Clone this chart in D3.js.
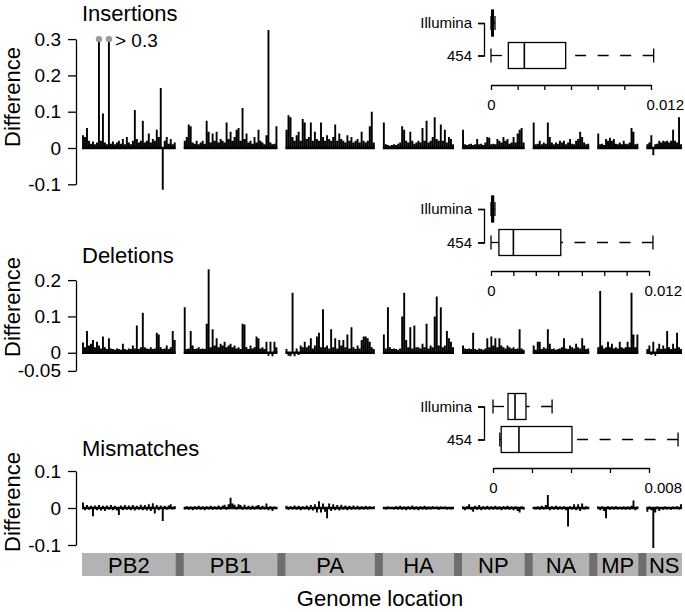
<!DOCTYPE html>
<html><head><meta charset="utf-8">
<script src="https://cdn.jsdelivr.net/npm/d3@7"></script>
<style>
body{margin:0;background:#fff}
svg text{font-family:"Liberation Sans",Arial,Helvetica,sans-serif;fill:#000}
</style></head><body>
<svg id="chart" width="685" height="612"></svg>
<script>
// ---------- genome layout ----------
const segments   = ["PB2","PB1","PA","HA","NP","NA","MP","NS"];
const segLengths = [2341,2341,2233,1778,1565,1413,1027,890];
const gapNt = 200;

// ---------- insertions (difference, binned along each segment) ----------
const insPB2 = [0.035,0.03,0.055,0.02,0.012,0.018,0.01,0.015,0.45,0.02,0.095,0.015,0.01,0.42,0.012,0.018,0.01,0.015,0.02,0.012,0.025,0.01,0.03,0.015,0.01,0.02,0.105,0.025,0.015,0.02,0.075,0.015,0.02,0.04,0.015,0.025,0.02,0.05,0.03,0.165,-0.115,0.02,0.03,0.012,0.025,0.01,0.015];
const insPB1 = [0.02,0.03,0.065,0.06,0.015,0.012,0.02,0.01,0.015,0.02,0.012,0.075,0.045,0.015,0.04,0.02,0.045,0.015,0.025,0.02,0.015,0.07,0.025,0.045,0.02,0.03,0.05,0.055,0.02,0.11,0.025,0.04,0.015,0.02,0.012,0.03,0.015,0.05,0.02,0.015,0.01,0.035,0.325,0.015,0.01,0.012,0.06];
const insPA  = [0.05,0.09,0.085,0.03,0.02,0.035,0.045,0.02,0.08,0.07,0.025,0.03,0.07,0.02,0.045,0.025,0.02,0.07,0.03,0.02,0.035,0.025,0.02,0.03,0.065,0.02,0.04,0.025,0.02,0.015,0.035,0.02,0.03,0.015,0.02,0.025,0.015,0.045,0.02,0.015,0.02,0.06,0.1,0.015];
const insHA  = [0.07,0.01,0.008,0.006,0.008,0.01,0.008,0.012,0.015,0.06,0.05,0.02,0.015,0.045,0.02,0.012,0.015,0.02,0.015,0.055,0.02,0.075,0.015,0.02,0.03,0.085,0.025,0.02,0.065,0.02,0.05,0.015,0.03,0.025,0.01];
const insNP  = [0.05,0.01,0.008,0.01,0.012,0.008,0.01,0.025,0.01,0.012,0.008,0.015,0.03,0.028,0.01,0.012,0.01,0.025,0.02,0.015,0.03,0.02,0.025,0.012,0.015,0.03,0.015,0.04,0.05,0.055,0.015];
const insNA  = [0.07,0.01,0.012,0.02,0.01,0.015,0.012,0.07,0.03,0.015,0.01,0.015,0.012,0.02,0.015,0.02,0.01,0.015,0.025,0.012,0.01,0.02,0.025,0.045,0.03,0.015,0.01,0.012];
const insMP  = [0.04,0.01,0.012,0.008,0.025,0.02,0.028,0.02,0.025,0.012,0.01,0.015,0.01,0.02,0.012,0.01,0.015,0.055,0.045,0.01,0.012];
const insNS  = [0.01,0.015,0.035,-0.02,0.01,0.012,0.02,0.015,0.02,0.018,0.02,0.015,0.02,0.05,0.02,0.015,0.085,0.01];

// ---------- deletions ----------
const delPB2 = [0.028,0.015,0.06,0.02,0.025,0.035,0.015,0.03,0.02,0.012,0.045,0.015,0.01,0.04,0.012,0.01,0.008,0.012,0.01,0.008,0.025,0.01,0.008,0.012,0.01,0.02,0.012,0.075,0.01,0.015,0.11,0.015,0.012,0.01,0.015,0.01,0.012,0.055,0.05,0.015,0.01,0.012,0.02,0.01,0.015,0.06,0.035];
const delPB1 = [0.125,0.01,0.012,0.06,0.02,0.01,0.012,0.015,0.01,0.012,0.01,0.08,0.23,0.015,0.065,0.02,0.04,0.015,0.025,0.02,0.03,0.015,0.02,0.025,0.015,0.02,0.012,0.015,0.01,0.08,0.078,0.015,0.01,0.02,0.012,0.015,0.045,0.04,0.012,0.015,0.01,0.03,-0.008,0.03,-0.01,0.03,0.015];
const delPA  = [0.01,-0.008,-0.01,0.165,-0.01,0.012,-0.006,0.02,0.015,0.03,0.015,0.02,0.04,0.012,0.02,0.045,0.055,0.015,0.12,0.015,0.02,0.012,0.065,0.015,0.04,0.012,0.035,0.02,0.035,0.015,0.05,0.012,0.07,0.015,0.01,0.02,0.012,0.035,0.045,0.045,0.04,0.03,0.015,0.01];
const delHA  = [0.05,0.012,0.125,0.015,0.01,0.012,0.01,0.008,0.012,0.1,0.165,0.035,0.015,0.07,0.012,0.075,0.015,0.015,0.012,0.025,0.015,0.08,0.012,0.02,0.015,0.1,0.155,0.02,0.125,0.015,0.02,0.06,0.04,0.03,0.015];
const delNP  = [0.02,0.012,0.01,0.012,0.01,0.055,0.01,0.008,0.012,0.01,0.008,0.012,0.04,0.015,0.045,0.02,0.04,0.015,0.04,0.02,0.015,0.012,0.02,0.015,0.012,0.015,0.01,0.012,0.065,0.012,0.008];
const delNA  = [0.02,0.008,0.03,0.03,0.01,0.015,0.012,0.065,0.025,0.01,0.012,0.008,0.01,0.012,0.015,0.04,0.012,0.01,0.02,0.015,0.012,0.025,0.015,0.012,0.04,0.02,0.01,0.012];
const delMP  = [0.015,0.17,0.02,0.012,0.015,0.03,0.015,0.025,0.012,0.015,0.012,0.03,0.015,0.012,0.015,0.03,0.015,0.165,0.05,0.015,0.05];
const delNS  = [0.01,0.02,-0.006,0.03,-0.008,0.012,0.025,0.01,0.02,0.012,0.06,0.015,0.01,0.025,0.012,0.055,0.015,0.01];

// ---------- mismatches ----------
const misPB2 = [0.015,-0.006,0.008,-0.005,0.006,-0.022,0.007,-0.006,0.008,-0.007,0.006,-0.008,0.007,-0.005,0.008,-0.006,0.006,-0.007,-0.019,0.007,-0.006,0.008,-0.005,0.007,-0.006,0.008,-0.007,0.006,-0.005,0.009,-0.006,0.008,-0.007,0.01,-0.008,0.013,-0.015,0.008,-0.006,0.007,-0.035,0.006,-0.005,0.007,0.01,-0.004,0.005];
const misPB1 = [-0.004,0.005,-0.005,0.004,-0.006,0.005,-0.004,0.006,-0.005,0.004,-0.006,0.005,-0.004,0.006,-0.005,0.005,-0.004,0.007,-0.005,0.006,0.009,-0.005,0.01,0.028,0.012,0.009,-0.004,0.01,0.008,-0.005,0.009,-0.004,0.006,-0.005,0.007,-0.004,0.006,0.008,-0.005,0.006,-0.004,0.012,-0.006,0.005,-0.008,0.004,-0.003];
const misPA  = [0.006,-0.005,0.005,-0.004,0.007,-0.005,0.006,-0.006,0.005,-0.004,0.007,-0.006,0.008,-0.007,0.01,-0.012,0.018,-0.012,0.012,-0.01,-0.028,0.012,-0.008,0.01,-0.006,0.008,-0.007,0.009,-0.005,0.007,-0.006,0.006,-0.005,0.007,-0.004,0.006,-0.005,0.005,-0.004,0.006,-0.004,0.005,-0.003,0.004];
const misHA  = [0.003,-0.004,0.004,-0.003,0.003,-0.004,0.005,-0.004,0.006,-0.005,0.004,-0.006,0.005,-0.004,0.007,-0.005,0.004,-0.006,0.005,-0.004,0.006,-0.005,0.004,-0.004,0.005,-0.003,0.004,-0.005,0.004,-0.003,0.004,-0.004,0.003,-0.004,0.003];
const misNP  = [0.004,-0.006,0.005,0.01,-0.005,-0.01,0.006,-0.005,0.008,-0.006,0.005,-0.004,0.006,-0.005,0.005,-0.004,0.006,-0.005,0.004,-0.006,0.005,-0.004,0.006,-0.005,0.004,-0.006,0.005,-0.008,-0.012,0.005,-0.004];
const misNA  = [0.003,-0.004,0.004,-0.005,0.006,-0.004,0.008,0.035,-0.006,0.005,-0.004,0.006,-0.005,0.004,-0.004,0.005,-0.006,-0.05,0.005,-0.004,0.01,-0.006,0.01,-0.008,0.012,-0.004,0.005,0.003];
const misMP  = [0.004,-0.006,0.005,-0.008,-0.028,0.005,-0.005,0.004,-0.004,0.005,-0.004,0.003,-0.004,0.004,-0.005,0.004,-0.005,0.006,0.02,-0.006,0.004];
const misNS  = [-0.01,0.004,-0.006,-0.108,-0.012,0.004,-0.008,0.003,-0.005,0.004,-0.004,0.003,-0.005,0.004,-0.003,0.005,-0.004,0.01];

// ---------- y ticks ----------
const insYTicks = [-0.1,0,0.1,0.2,0.3];
const delYTicks = [-0.05,0,0.1,0.2];
const misYTicks = [-0.1,0,0.1];

// ---------- inset boxplots: [min, q1, median, q3, max] ----------
const boxCats = ["Illumina","454"];
const insBoxIllumina = [0,0.00005,0.0001,0.00018,0.0003];
const insBox454      = [0,0.0013,0.0025,0.0056,0.0122];
const delBoxIllumina = [0,0.00005,0.0001,0.0002,0.0003];
const delBox454      = [0,0.0006,0.0017,0.0053,0.0123];
const misBoxIllumina = [0,0.00077,0.00113,0.00169,0.00303];
const misBox454      = [0.00035,0.00042,0.00133,0.00405,0.00949];
const insXTicks = [0,0.002,0.004,0.006,0.008,0.01,0.012];
const delXTicks = [0,0.0017,0.0034,0.0051,0.0069,0.0086,0.0103,0.012];
const misXTicks = [0,0.002,0.004,0.006,0.008];

// ================= drawing =================
const svg = d3.select("#chart");
svg.append("rect").attr("width",685).attr("height",612).attr("fill","#fff");

const segStart = [];
{ let acc = 0; segLengths.forEach(l => { segStart.push(acc); acc += l + gapNt; }); }
const totalNt = d3.sum(segLengths) + gapNt*(segLengths.length-1);
const x = d3.scaleLinear().domain([0,totalNt]).range([82,682]);

// values above offScale are drawn truncated at the axis top and marked with a grey dot
const panels = [
  {title:"Insertions", titleY:21, labelY:97, yDomain:[-0.1,0.3], yRange:[184.3,39.1], yTicks:insYTicks, top:0.3, offScale:0.4,
   series:[insPB2,insPB1,insPA,insHA,insNP,insNA,insMP,insNS]},
  {title:"Deletions", titleY:263, labelY:307, yDomain:[-0.05,0.2], yRange:[370.9,280.1], yTicks:delYTicks, top:null, offScale:null,
   series:[delPB2,delPB1,delPA,delHA,delNP,delNA,delMP,delNS]},
  {title:"Mismatches", titleY:456, labelY:502, yDomain:[-0.1,0.1], yRange:[545,471], yTicks:misYTicks, top:null, offScale:null,
   series:[misPB2,misPB1,misPA,misHA,misNP,misNA,misMP,misNS]}
];

panels.forEach(p => {
  const y = d3.scaleLinear().domain(p.yDomain).range(p.yRange);
  const g = svg.append("g");
  const ax = g.append("g").attr("transform","translate(76,0)")
    .call(d3.axisLeft(y).tickValues(p.yTicks).tickSize(8).tickSizeOuter(0).tickPadding(7).tickFormat(d => String(d)));
  ax.attr("font-size",19);
  ax.selectAll("path,line").attr("stroke","#000").attr("stroke-width",1.3);
  g.append("text").attr("x",82).attr("y",p.titleY).attr("font-size",22).text(p.title);
  g.append("text").attr("transform",`translate(20,${p.labelY}) rotate(-90)`)
    .attr("text-anchor","middle").attr("font-size",22).text("Difference");
  const y0 = y(0);
  p.series.forEach((vals,i) => {
    const start = segStart[i], len = segLengths[i], n = vals.length;
    const px = j => x(start + (j+0.5)*len/n);
    const isOff = v => p.offScale != null && v > p.offScale;
    g.append("line").attr("x1",x(start)).attr("x2",x(start+len)).attr("y1",y0).attr("y2",y0)
      .attr("stroke","#000").attr("stroke-width",2.4);
    const d = vals.map((v,j) => `M${px(j)},${y0}V${y(isOff(v) ? p.top : v)}`).join("");
    g.append("path").attr("d",d).attr("stroke","#000").attr("stroke-width",1.9).attr("fill","none");
    vals.forEach((v,j) => {
      if (isOff(v)) g.append("circle").attr("cx",px(j)).attr("cy",y(p.top)).attr("r",3.2).attr("fill","#999");
    });
  });
  if (p.top != null) {
    g.append("text").attr("x",115).attr("y",y(p.top)+8).attr("font-size",19).text("> " + p.top);
  }
});

// ---------- insets ----------
const insets = [
  {xDomain:[0,0.012], xRange:[491,651], xTicks:insXTicks, axisY:85,  catRange:[23,55.5], boxes:[insBoxIllumina,insBox454]},
  {xDomain:[0,0.012], xRange:[491,649], xTicks:delXTicks, axisY:271, catRange:[209,242.5], boxes:[delBoxIllumina,delBox454]},
  {xDomain:[0,0.008], xRange:[493,649], xTicks:misXTicks, axisY:468, catRange:[406.5,439.5], boxes:[misBoxIllumina,misBox454]}
];
insets.forEach(c => {
  const xs = d3.scaleLinear().domain(c.xDomain).range(c.xRange);
  const cs = d3.scalePoint().domain(boxCats).range(c.catRange);
  const g = svg.append("g");
  const last = c.xTicks.length - 1;
  const xa = g.append("g").attr("transform",`translate(0,${c.axisY})`)
    .call(d3.axisBottom(xs).tickValues(c.xTicks).tickSize(5).tickSizeOuter(0).tickPadding(9)
      .tickFormat((d,i) => (i === 0 || i === last) ? String(d) : ""));
  xa.attr("font-size",15);
  xa.selectAll("path,line").attr("stroke","#000").attr("stroke-width",1.3);
  xa.selectAll(".tick text").filter((d,i) => i === last).attr("text-anchor","start").attr("x",-5);
  const ca = g.append("g").attr("transform","translate(484,0)")
    .call(d3.axisLeft(cs).tickSize(6).tickPadding(6));
  ca.attr("font-size",15);
  ca.selectAll("path,line").attr("stroke","#000").attr("stroke-width",1.3);
  c.boxes.forEach((b,i) => {
    const cy = cs(boxCats[i]), hh = 13, ch = 7;
    const [mn,q1,md,q3,mx] = b.map(v => xs(v));
    const bg = g.append("g").attr("stroke","#000").attr("stroke-width",1.3).attr("fill","none");
    bg.append("line").attr("x1",mn).attr("x2",q1).attr("y1",cy).attr("y2",cy).attr("stroke-dasharray","11,11.5");
    bg.append("line").attr("x1",mx).attr("x2",q3).attr("y1",cy).attr("y2",cy).attr("stroke-dasharray","11,11.5");
    bg.append("line").attr("x1",mn).attr("x2",mn).attr("y1",cy-ch).attr("y2",cy+ch);
    bg.append("line").attr("x1",mx).attr("x2",mx).attr("y1",cy-ch).attr("y2",cy+ch);
    bg.append("rect").attr("x",q1).attr("y",cy-hh).attr("width",q3-q1).attr("height",2*hh).attr("fill","#fff");
    bg.append("line").attr("x1",md).attr("x2",md).attr("y1",cy-hh).attr("y2",cy+hh).attr("stroke-width",1.6);
  });
});

// ---------- genome bar ----------
const bar = svg.append("g");
bar.append("rect").attr("x",x(0)).attr("y",553).attr("width",x(totalNt)-x(0)).attr("height",23).attr("fill","#6e6e6e");
segments.forEach((s,i) => {
  const x0 = x(segStart[i]), x1 = x(segStart[i]+segLengths[i]);
  bar.append("rect").attr("x",x0).attr("y",553).attr("width",x1-x0).attr("height",23).attr("fill","#b3b3b3");
  bar.append("text").attr("x",(x0+x1)/2).attr("y",573).attr("text-anchor","middle").attr("font-size",22).text(s);
});
svg.append("text").attr("x",380).attr("y",606).attr("text-anchor","middle").attr("font-size",22).text("Genome location");
</script>
</body></html>
